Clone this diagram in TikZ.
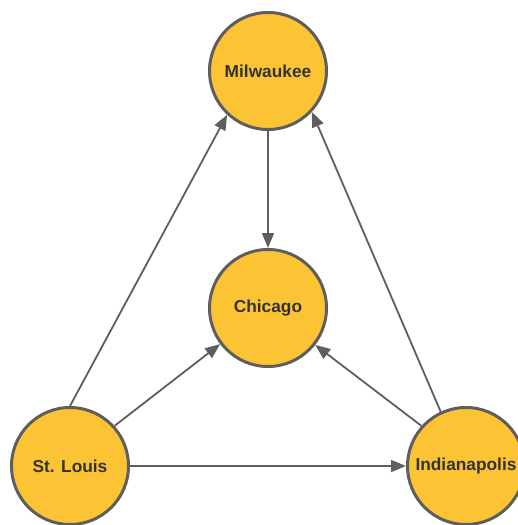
\documentclass[tikz,border=0pt]{standalone}
\usepackage{fontspec}
\setmainfont{Liberation Sans}
\usetikzlibrary{arrows.meta}
\definecolor{cityfill}{HTML}{FCC434}
\definecolor{edgegray}{HTML}{5E5E5E}
\definecolor{txtgray}{HTML}{333333}
\tikzset{
  city/.style={circle, draw=edgegray, line width=3pt, fill=cityfill, minimum size=117pt, inner sep=0pt,
    text=txtgray, font=\fontsize{17.3}{20}\selectfont\bfseries},
  link/.style={draw=edgegray, line width=1.8pt, -{Triangle[length=15pt,width=12pt]}}
}
\begin{document}
\begin{tikzpicture}[x=1pt,y=-1pt]
\useasboundingbox (0,0) rectangle (517,525);
\node[city] (mil) at (268,71) {Milwaukee};
\node[city] (chi) at (268,308) {Chicago};
\node[city] (stl) at (70,466) {St. Louis};
\node[city] (ind) at (466,466) {Indianapolis};
\draw[link] (mil) -- (chi);
\draw[link] (stl.north) -- (mil.227);
\draw[link] (stl.42) -- (chi.217);
\draw[link] (stl) -- (ind);
\draw[link] (ind.115) -- (mil.317);
\draw[link] (ind.138) -- (chi.322);
\end{tikzpicture}
\end{document}
